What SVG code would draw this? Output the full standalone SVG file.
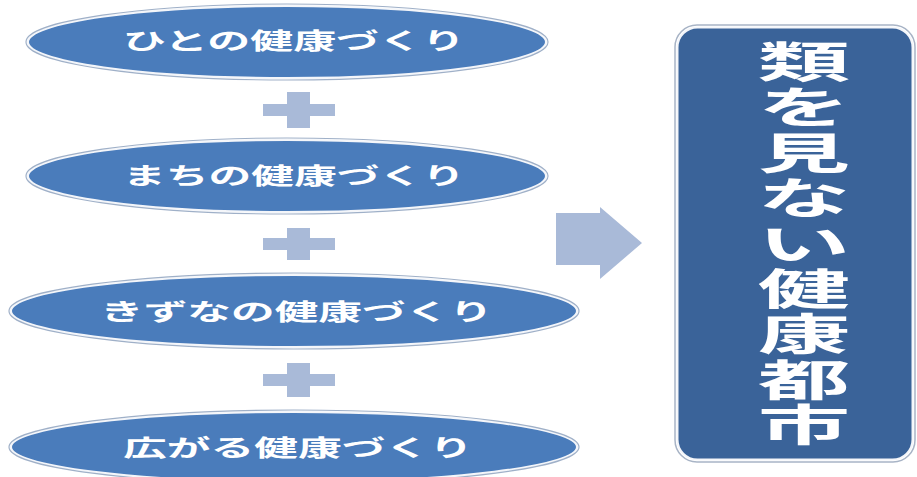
<svg xmlns="http://www.w3.org/2000/svg" width="917" height="477" viewBox="0 0 917 477">
<style>
.ell{fill:#4a7cbb;stroke:#f4f6fa;stroke-width:2}
.ellout{fill:none;stroke:#9fb0c8;stroke-width:1.2}
.lbl{font-family:"Noto Sans CJK JP","Noto Sans CJK SC",sans-serif;font-weight:bold;fill:#ffffff;font-size:23px}
.plus{fill:#a9bad8}
.big{font-family:"Noto Sans CJK JP","Noto Sans CJK SC",sans-serif;font-weight:bold;fill:#ffffff;font-size:43px}
</style>
<rect width="917" height="477" fill="#ffffff"/>
<g id="node1">
<ellipse class="ell" cx="287" cy="42" rx="259" ry="36"/>
<ellipse class="ellout" cx="287" cy="42" rx="261" ry="38"/>
<text class="lbl" x="123" y="49" textLength="342" lengthAdjust="spacingAndGlyphs">ひとの健康づくり</text>
</g>
<g id="node2">
<ellipse class="ell" cx="287" cy="176" rx="259" ry="36"/>
<ellipse class="ellout" cx="287" cy="176" rx="261" ry="38"/>
<text class="lbl" x="123" y="184" textLength="342" lengthAdjust="spacingAndGlyphs">まちの健康づくり</text>
</g>
<g id="node3">
<ellipse class="ell" cx="294" cy="311" rx="283" ry="36"/>
<ellipse class="ellout" cx="294" cy="311" rx="285" ry="38"/>
<text class="lbl" x="100" y="320" textLength="393" lengthAdjust="spacingAndGlyphs">きずなの健康づくり</text>
</g>
<g id="node4">
<ellipse class="ell" cx="294" cy="447" rx="283" ry="35"/>
<ellipse class="ellout" cx="294" cy="447" rx="285" ry="37"/>
<text class="lbl" x="123" y="456" textLength="350" lengthAdjust="spacingAndGlyphs">広がる健康づくり</text>
</g>
<g id="node5">
<rect x="675" y="25" width="240" height="437" rx="22" fill="none" stroke="#a8b4c6" stroke-width="1.5"/>
<rect x="677.5" y="27.5" width="235" height="432" rx="20" fill="#3a6399" stroke="#f4f6fa" stroke-width="2"/>
<text class="big" transform="scale(2.15,1)" text-anchor="middle"><tspan x="374" y="78">類</tspan><tspan x="374" y="123.4">を</tspan><tspan x="374" y="168.8">見</tspan><tspan x="374" y="214.2">な</tspan><tspan x="374" y="259.6">い</tspan><tspan x="374" y="305">健</tspan><tspan x="374" y="350.4">康</tspan><tspan x="374" y="395.8">都</tspan><tspan x="374" y="441.2">市</tspan></text>
</g>
<g id="connectors">
<path class="plus" d="M287 92H310V104H335V116H310V128H287V116H263V104H287Z"/>
<path class="plus" d="M287 228H310V238H335V250H310V260H287V250H263V238H287Z"/>
<path class="plus" d="M287 363H310V374H335V386H310V397H287V386H263V374H287Z"/>
<path class="plus" d="M556 213H600V207L642 243L600 279V265H556Z"/>
</g>
</svg>
